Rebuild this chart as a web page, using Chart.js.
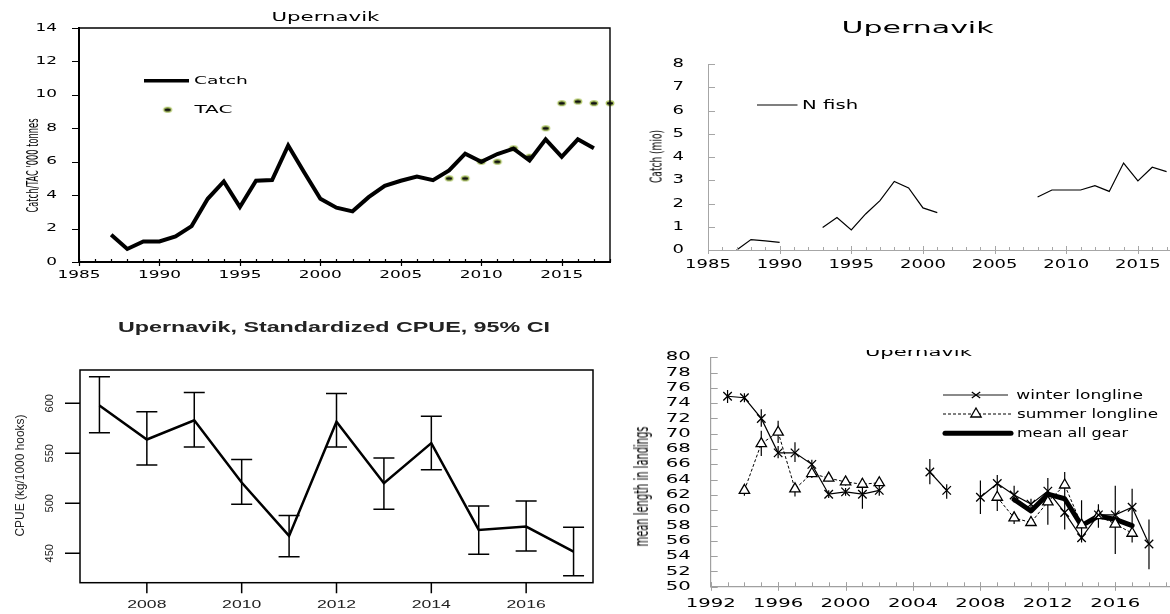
<!DOCTYPE html>
<html><head><meta charset="utf-8">
<script src="https://cdn.jsdelivr.net/npm/chart.js@4.4.1/dist/chart.umd.min.js"></script>
<style>
html,body{margin:0;padding:0;background:#fff;}
body{width:1170px;height:614px;position:relative;overflow:hidden;}
canvas{position:absolute;}
.t{position:absolute;white-space:nowrap;line-height:1;transform-origin:50% 50%;}
</style></head><body>
<canvas id="c1" width="620" height="290" style="left:0;top:0;width:620px;height:290px"></canvas>
<canvas id="c2" width="570" height="290" style="left:620px;top:0;width:570px;height:290px"></canvas>
<canvas id="c3" width="600" height="314" style="left:0;top:300px;width:600px;height:314px"></canvas>
<canvas id="c4" width="590" height="284" style="left:600px;top:330px;width:590px;height:284px"></canvas>
<div id="clip4" style="position:absolute;left:840px;top:350px;width:160px;height:20px;overflow:hidden;"></div>
<script>
// ---------------- Panel 1: Catch / TAC ('000 tonnes) ----------------
const p1Years = [1987,1988,1989,1990,1991,1992,1993,1994,1995,1996,1997,1998,1999,2000,2001,2002,2003,2004,2005,2006,2007,2008,2009,2010,2011,2012,2013,2014,2015,2016,2017];
const p1Catch = [1.63,0.78,1.23,1.23,1.53,2.15,3.78,4.82,3.29,4.86,4.9,6.97,5.35,3.78,3.25,3.03,3.88,4.56,4.86,5.11,4.9,5.48,6.48,5.99,6.46,6.78,6.07,7.34,6.29,7.34,6.8];
const p1TacYears = [2008,2009,2010,2011,2012,2013,2014,2015,2016,2017,2018];
const p1Tac = [5.0,5.0,6.0,6.0,6.8,6.3,8.0,9.5,9.6,9.5,9.5];
const p1XTicks = [1985,1990,1995,2000,2005,2010,2015];
const p1YTicks = [0,2,4,6,8,10,12,14];

// ---------------- Panel 2: N fish (mio) ----------------
const p2Years = [1987,1988,1989,1990,1991,1992,1993,1994,1995,1996,1997,1998,1999,2000,2001,2002,2003,2004,2005,2006,2007,2008,2009,2010,2011,2012,2013,2014,2015,2016,2017];
const p2Fish = [0,0.45,0.39,0.33,null,null,0.97,1.40,0.86,1.55,2.12,2.95,2.67,1.81,1.61,null,null,null,null,null,null,2.28,2.58,2.58,2.58,2.77,2.52,3.74,2.97,3.56,3.37];
const p2XTicks = [1985,1990,1995,2000,2005,2010,2015];
const p2YTicks = [0,1,2,3,4,5,6,7,8];

// ---------------- Panel 3: Standardized CPUE, 95% CI ----------------
const p3Years = [2007,2008,2009,2010,2011,2012,2013,2014,2015,2016,2017];
const p3Cpue  = [597.7,563.8,583.0,520.8,467.4,581.6,520.1,560.2,473.4,476.7,451.7];
const p3Upper = [626.5,591.6,610.7,543.9,487.8,609.7,545.2,587.0,497.4,502.4,476.1];
const p3Lower = [570.5,538.4,556.2,499.1,446.6,556.2,494.1,533.5,449.0,452.3,427.6];
const p3XTicks = [2008,2010,2012,2014,2016];
const p3YTicks = [450,500,550,600];

// ---------------- Panel 4: mean length in landings ----------------
const p4WinterYears = [1993,1994,1995,1996,1997,1998,1999,2000,2001,2002,2003,2004,2005,2006,2007,2008,2009,2010,2011,2012,2013,2014,2015,2016,2017,2018];
const p4Winter   = [74.9,74.7,72.0,67.5,67.5,66.0,62.1,62.4,62.1,62.6,null,null,65.0,62.6,null,61.7,63.5,62.0,60.8,62.5,59.7,56.4,59.4,59.4,60.4,55.6];
const p4WinterHi = [75.7,75.3,73.2,68.4,68.9,66.6,62.6,62.9,64.2,63.4,null,null,66.7,63.4,null,63.9,64.6,63.2,61.5,64.2,61.9,61.3,60.8,63.2,62.8,58.8];
const p4WinterLo = [74.0,74.1,70.9,66.8,66.3,65.5,61.6,61.9,60.2,61.9,null,null,63.4,61.5,null,59.5,62.3,61.0,59.9,58.1,57.5,55.8,57.7,54.3,55.8,52.3];
const p4SummerYears = [1994,1995,1996,1997,1998,1999,2000,2001,2002,2003,2004,2005,2006,2007,2008,2009,2010,2011,2012,2013,2014,2015,2016,2017];
const p4Summer   = [62.6,68.7,70.2,62.8,64.8,64.2,63.7,63.4,63.6,null,null,null,null,null,null,61.7,59.0,58.4,61.1,63.3,58.1,59.3,58.2,57.0];
const p4SummerHi = [63.3,70.4,71.7,63.5,65.5,64.7,64.2,64.0,64.1,null,null,null,null,null,null,63.0,59.8,59.2,62.0,65.0,null,59.8,59.0,57.8];
const p4SummerLo = [61.9,67.1,68.8,61.8,64.2,63.8,63.2,62.8,63.0,null,null,null,null,null,null,59.9,58.2,58.0,60.0,61.7,null,58.6,57.2,56.2];
const p4MeanYears = [2010,2011,2012,2013,2014,2015,2016,2017];
const p4Mean = [61.4,59.9,62.1,61.5,58.0,59.25,58.8,58.0];
const p4XTicks = [1992,1996,2000,2004,2008,2012,2016];
const p4YTicks = [50,52,54,56,58,60,62,64,66,68,70,72,74,76,78,80];

// ---------------- helpers ----------------
const pts = (xs, ys) => xs.map((x, i) => ({x: x, y: ys[i]}));
const range = (a, b) => { const r = []; for (let v = a; v <= b; v++) r.push(v); return r; };

function prep(id, sx) {
  const cv = document.getElementById(id);
  const ctx = cv.getContext('2d');
  const raw = ctx.fillText;
  ctx.rawFill = function (t, x, y) { raw.call(this, t, x, y); };
  ctx.fillText = function (t, x, y) {
    this.save(); this.translate(x, y); this.scale(sx, 1); raw.call(this, t, 0, 0); this.restore();
  };
  return cv;
}
function baseOpts(pad) {
  return { animation: false, responsive: false, events: [], devicePixelRatio: 1,
    layout: {padding: pad}, plugins: {legend: {display: false}, tooltip: {enabled: false}} };
}
function axis(o) {
  return {
    type: 'linear', min: o.min, max: o.max,
    afterBuildTicks: s => { s.ticks = o.ticks.map(v => ({value: v})); },
    afterFit: s => { if (o.width !== undefined) s.width = o.width; if (o.height !== undefined) s.height = o.height; },
    grid: {display: false, drawTicks: false},
    border: {display: o.border !== false, color: o.borderColor || '#000', width: o.borderWidth || 1},
    ticks: {display: o.labels !== false, autoSkip: false, maxRotation: 0, minRotation: 0,
      padding: o.padding || 0, color: o.color || '#000', font: o.font, callback: v => String(v)}
  };
}
function addText(txt, o) {
  const d = document.createElement('div');
  d.className = 't';
  d.textContent = txt;
  d.style.fontFamily = o.font; d.style.fontSize = o.size + 'px';
  d.style.fontWeight = o.weight || 'normal'; d.style.color = o.color || '#000';
  const parent = o.parent || document.body;
  parent.appendChild(d);
  const r = d.getBoundingClientRect();
  const w = r.width, h = r.height;
  const sx = o.len / w, sy = o.sy || 1;
  const ox = o.px || 0, oy = o.py || 0;
  const cx = (o.left !== undefined) ? o.left + o.len / 2 : o.cx;
  d.style.left = (cx - ox - w / 2) + 'px';
  d.style.top = (o.cy - oy - h / 2) + 'px';
  d.style.transform = (o.rot ? 'rotate(-90deg) ' : '') + 'scale(' + sx + ',' + sy + ')';
}
function tickPlugin(c) {
  return { id: 'ticks', afterDraw(chart) {
    const {ctx, chartArea: a, scales: {x, y}} = chart;
    ctx.save(); ctx.strokeStyle = c.color; ctx.lineWidth = c.lw; ctx.beginPath();
    c.yVals.forEach(v => { const p = Math.round(y.getPixelForValue(v)) + 0.5;
      ctx.moveTo(a.left - c.yOut, p); ctx.lineTo(a.left + c.yIn, p); });
    c.xMinor.forEach(v => { const p = Math.round(x.getPixelForValue(v)) + 0.5;
      ctx.moveTo(p, a.bottom - c.minUp); ctx.lineTo(p, a.bottom + c.minDown); });
    c.xMajor.forEach(v => { const p = Math.round(x.getPixelForValue(v)) + 0.5;
      ctx.moveTo(p, a.bottom - c.majUp); ctx.lineTo(p, a.bottom + c.majDown); });
    ctx.stroke(); ctx.restore();
  }};
}
function tacMarker() {
  const c = document.createElement('canvas'); c.width = 12; c.height = 8;
  const g = c.getContext('2d');
  g.beginPath(); g.ellipse(6, 4, 3.8, 2.3, 0, 0, Math.PI * 2);
  g.fillStyle = '#111'; g.fill(); g.lineWidth = 1.4; g.strokeStyle = '#abc45e'; g.stroke();
  return c;
}
const tacImg = tacMarker();

// ---------------- Panel 1 chart ----------------
new Chart(prep('c1', 1.69), {
  type: 'line',
  data: {datasets: [
    {data: pts(p1Years, p1Catch), borderColor: '#000', borderWidth: 4, pointRadius: 0, tension: 0},
    {data: pts(p1TacYears, p1Tac), showLine: false, pointStyle: tacImg, pointRadius: 4, clip: false}
  ]},
  options: Object.assign(baseOpts({top: 28, right: 10, left: 0, bottom: 0}), {
    scales: {
      x: axis({min: 1985, max: 2018, ticks: p1XTicks, height: 24, borderWidth: 2, padding: 7,
        font: {family: 'DejaVu Sans', size: 10}}),
      y: axis({min: 0, max: 14, ticks: p1YTicks, width: 79, borderWidth: 2, padding: 22,
        font: {family: 'DejaVu Sans', size: 10}})
    }
  }),
  plugins: [
    tickPlugin({color: '#000', lw: 1.2, yVals: p1YTicks, yOut: 7, yIn: 0,
      xMinor: range(1985, 2018), minUp: 3, minDown: 0, xMajor: p1XTicks, majUp: 3, majDown: 4}),
    {id: 'frame1', afterDraw(chart) {
      const {ctx, chartArea: a} = chart;
      ctx.save(); ctx.strokeStyle = '#000'; ctx.lineWidth = 1.4;
      ctx.beginPath(); ctx.moveTo(a.left, a.top); ctx.lineTo(a.right, a.top); ctx.lineTo(a.right, a.bottom); ctx.stroke();
      ctx.lineWidth = 3.5; ctx.beginPath(); ctx.moveTo(144, 80.7); ctx.lineTo(189, 80.7); ctx.stroke();
      ctx.drawImage(tacImg, 167.6 - 6, 109.7 - 4);
      ctx.restore();
    }}
  ]
});

// ---------------- Panel 2 chart ----------------
new Chart(prep('c2', 1.5), {
  type: 'line',
  data: {datasets: [
    {data: pts(p2Years, p2Fish), borderColor: '#000', borderWidth: 1.2, pointRadius: 0, tension: 0, spanGaps: false}
  ]},
  options: Object.assign(baseOpts({top: 64, right: 9.1, left: 0, bottom: 0}), {
    scales: {
      x: axis({min: 1985, max: 2018, ticks: p2XTicks, height: 40, borderColor: '#a6a6a6', borderWidth: 1, padding: 7.8,
        font: {family: 'DejaVu Sans', size: 12}}),
      y: axis({min: 0, max: 8, ticks: p2YTicks, width: 88, borderColor: '#a6a6a6', borderWidth: 1, padding: 24,
        font: {family: 'DejaVu Sans', size: 12}})
    }
  }),
  plugins: [
    tickPlugin({color: '#a6a6a6', lw: 1, yVals: p2YTicks, yOut: 0, yIn: 7,
      xMinor: range(1985, 2018), minUp: 3, minDown: 0, xMajor: p2XTicks, majUp: 4, majDown: 4}),
    {id: 'leg2', afterDraw(chart) {
      const ctx = chart.ctx; ctx.save(); ctx.strokeStyle = '#000'; ctx.lineWidth = 1.2;
      ctx.beginPath(); ctx.moveTo(757 - 620, 105); ctx.lineTo(797.5 - 620, 105); ctx.stroke(); ctx.restore();
    }}
  ]
});

// ---------------- Panel 3 chart ----------------
new Chart(prep('c3', 1.6), {
  type: 'line',
  data: {datasets: [
    {data: pts(p3Years, p3Cpue), borderColor: '#000', borderWidth: 2.5, pointRadius: 0, tension: 0}
  ]},
  options: Object.assign(baseOpts({top: 70, right: 7, left: 0, bottom: 0}), {
    scales: {
      x: axis({min: 2006.59, max: 2017.41, ticks: p3XTicks, height: 31.3, border: false, padding: 15.7, color: '#222',
        font: {family: 'Liberation Sans', size: 11}}),
      y: axis({min: 420.6, max: 633.3, ticks: p3YTicks, width: 80, border: false, labels: false,
        font: {family: 'Liberation Sans', size: 11}})
    }
  }),
  plugins: [
    {id: 'err3', beforeDatasetsDraw(chart) {
      const {ctx, scales: {x, y}} = chart;
      ctx.save(); ctx.strokeStyle = '#000'; ctx.lineWidth = 1.5; ctx.beginPath();
      p3Years.forEach((yr, i) => {
        const px = x.getPixelForValue(yr), a = y.getPixelForValue(p3Upper[i]), b = y.getPixelForValue(p3Lower[i]);
        ctx.moveTo(px, a); ctx.lineTo(px, b);
        ctx.moveTo(px - 10.5, a); ctx.lineTo(px + 10.5, a);
        ctx.moveTo(px - 10.5, b); ctx.lineTo(px + 10.5, b);
      });
      ctx.stroke(); ctx.restore();
    },
    afterDraw(chart) {
      const {ctx, chartArea: a, scales: {x, y}} = chart;
      ctx.save(); ctx.strokeStyle = '#000'; ctx.lineWidth = 1.5;
      ctx.strokeRect(a.left, a.top, a.right - a.left, a.bottom - a.top);
      ctx.beginPath();
      p3YTicks.forEach(v => { const p = y.getPixelForValue(v); ctx.moveTo(a.left - 15, p); ctx.lineTo(a.left, p); });
      p3XTicks.forEach(v => { const p = x.getPixelForValue(v); ctx.moveTo(p, a.bottom); ctx.lineTo(p, a.bottom + 10.5); });
      ctx.stroke();
      ctx.fillStyle = '#222'; ctx.font = '11px "Liberation Sans"'; ctx.textAlign = 'center'; ctx.textBaseline = 'middle';
      p3YTicks.forEach(v => {
        const p = y.getPixelForValue(v);
        ctx.save(); ctx.translate(50, p); ctx.rotate(-Math.PI / 2); ctx.rawFill(String(v), 0, 0); ctx.restore();
      });
      ctx.restore();
    }}
  ]
});

// ---------------- Panel 4 chart ----------------
new Chart(prep('c4', 1.64), {
  type: 'line',
  data: {datasets: [
    {data: pts(p4WinterYears, p4Winter), borderColor: '#000', borderWidth: 1.2, tension: 0, spanGaps: false,
      pointStyle: 'crossRot', pointRadius: 6, pointBorderColor: '#000', pointBorderWidth: 1.3},
    {data: pts(p4SummerYears, p4Summer), borderColor: '#000', borderWidth: 1, borderDash: [3, 2], tension: 0, spanGaps: false,
      pointStyle: 'triangle', pointRadius: 6, pointBackgroundColor: '#fff', pointBorderColor: '#000', pointBorderWidth: 1.3},
    {data: pts(p4MeanYears, p4Mean), borderColor: '#000', borderWidth: 5, pointRadius: 0, tension: 0,
      borderJoinStyle: 'round', borderCapStyle: 'round'}
  ]},
  options: Object.assign(baseOpts({top: 22.7, right: 3.3, left: 0, bottom: 0}), {
    scales: {
      x: axis({min: 1992, max: 2020, ticks: p4XTicks, height: 25.3, borderColor: '#a0a0a0', borderWidth: 1.2, padding: 10.1,
        font: {family: 'DejaVu Sans', size: 12}}),
      y: axis({min: 50, max: 80, ticks: p4YTicks, width: 110.7, borderColor: '#a0a0a0', borderWidth: 1.2, padding: 20,
        font: {family: 'DejaVu Sans', size: 12}})
    }
  }),
  plugins: [
    tickPlugin({color: '#a0a0a0', lw: 1, yVals: p4YTicks, yOut: 0, yIn: 7,
      xMinor: range(1992, 2020), minUp: 4.5, minDown: 0, xMajor: p4XTicks, majUp: 4.5, majDown: 4}),
    {id: 'err4', beforeDatasetsDraw(chart) {
      const {ctx, scales: {x, y}} = chart;
      ctx.save(); ctx.strokeStyle = '#000'; ctx.lineWidth = 1.2; ctx.beginPath();
      const bars = (yrs, hi, lo) => yrs.forEach((yr, i) => {
        if (hi[i] == null || lo[i] == null) return;
        const px = x.getPixelForValue(yr);
        ctx.moveTo(px, y.getPixelForValue(hi[i])); ctx.lineTo(px, y.getPixelForValue(lo[i]));
      });
      bars(p4WinterYears, p4WinterHi, p4WinterLo);
      bars(p4SummerYears, p4SummerHi, p4SummerLo);
      ctx.stroke(); ctx.restore();
    },
    afterDraw(chart) {
      const ctx = chart.ctx; const ox = 600, oy = 330;
      ctx.save();
      ctx.strokeStyle = '#8a8a8a'; ctx.lineWidth = 1.8;
      ctx.beginPath(); ctx.moveTo(943 - ox, 395 - oy); ctx.lineTo(1008 - ox, 395 - oy); ctx.stroke();
      ctx.strokeStyle = '#000'; ctx.lineWidth = 1.3;
      let cx = 976 - ox, cy = 395 - oy, r = 4.2;
      ctx.beginPath(); ctx.moveTo(cx - r, cy - r * 0.7); ctx.lineTo(cx + r, cy + r * 0.7);
      ctx.moveTo(cx - r, cy + r * 0.7); ctx.lineTo(cx + r, cy - r * 0.7); ctx.stroke();
      ctx.lineWidth = 1; ctx.setLineDash([3, 2]);
      ctx.beginPath(); ctx.moveTo(943 - ox, 414 - oy); ctx.lineTo(1013 - ox, 414 - oy); ctx.stroke();
      ctx.setLineDash([]); ctx.lineWidth = 1.3;
      cx = 976 - ox; cy = 414 - oy; r = 6;
      ctx.beginPath(); ctx.moveTo(cx, cy - r); ctx.lineTo(cx + r * 0.866, cy + r * 0.5); ctx.lineTo(cx - r * 0.866, cy + r * 0.5); ctx.closePath();
      ctx.fillStyle = '#fff'; ctx.fill(); ctx.stroke();
      ctx.lineWidth = 5; ctx.lineCap = 'round';
      ctx.beginPath(); ctx.moveTo(945 - ox, 433.3 - oy); ctx.lineTo(1011 - ox, 433.3 - oy); ctx.stroke();
      ctx.restore();
    }}
  ]
});

// ---------------- Titles, axis titles, legend labels (HTML text) ----------------
const VER = '"DejaVu Sans", Verdana, sans-serif';
const ARI = '"Liberation Sans", Arial, sans-serif';
const NAR = '"Liberation Sans Narrow", "DejaVu Sans Condensed", "Liberation Sans", sans-serif';

addText('Upernavik', {font: VER, size: 12, cx: 325, cy: 17, len: 108});
addText('Catch', {font: VER, size: 11, left: 194, cy: 80.7, len: 54});
addText('TAC', {font: VER, size: 11, left: 194, cy: 109.7, len: 38});
addText("Catch/TAC '000 tonnes", {font: NAR, size: 11, cx: 33, cy: 165, len: 94, rot: true, sy: 1.45});

addText('Upernavik', {font: VER, size: 16, cx: 918, cy: 28, len: 152});
addText('N fish', {font: VER, size: 12, left: 802, cy: 105, len: 56});
addText('Catch (mio)', {font: NAR, size: 11, cx: 655.5, cy: 156.7, len: 53, rot: true, sy: 1.45});

addText('Upernavik, Standardized CPUE, 95% CI', {font: ARI, size: 14, weight: 'bold', color: '#222', cx: 334, cy: 327.2, len: 432});
addText('CPUE (kg/1000 hooks)', {font: ARI, size: 11, color: '#222', cx: 20, cy: 475.8, len: 122, rot: true, sy: 1.15});

addText('Upernavik', {font: VER, size: 12, cx: 918, cy: 351.6, len: 107, parent: document.getElementById('clip4'), px: 840, py: 350});
addText('mean length in landings', {font: NAR, size: 13, cx: 641.7, cy: 486.7, len: 120, rot: true, sy: 1.45});
addText('winter longline', {font: VER, size: 12, left: 1016.7, cy: 395, len: 126.6});
addText('summer longline', {font: VER, size: 12, left: 1016.7, cy: 414, len: 141});
addText('mean all gear', {font: VER, size: 12, left: 1016.7, cy: 433.3, len: 111});
</script>
</body></html>
